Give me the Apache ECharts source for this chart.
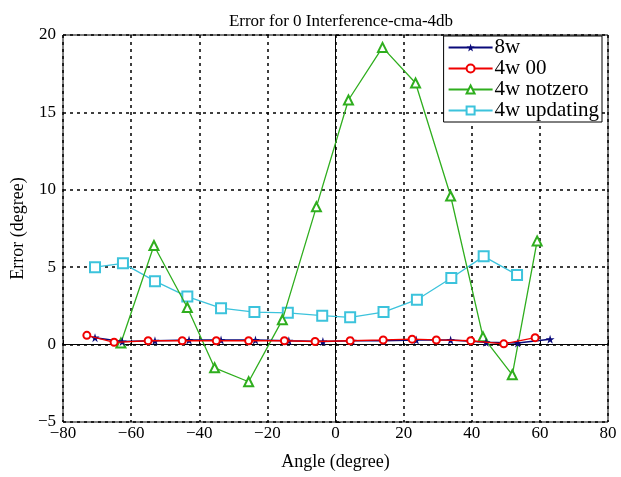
<!DOCTYPE html>
<html>
<head>
<meta charset="utf-8">
<script src="https://cdn.jsdelivr.net/npm/echarts@6/dist/echarts.min.js"></script>
<style>
  html, body { margin: 0; padding: 0; background: #fff; }
  #chart { width: 621px; height: 477px; }
</style>
</head>
<body>
<div id="chart"></div>
<script>
// angles (x) and errors (y)
var x8w = [-70.6, -62.6, -53, -43, -33.6, -23.5, -13.7, -3.7, 4.9, 14.1, 23.7, 33.8, 44.2, 53.5, 63];
var y8w = [0.45, 0.2, 0.25, 0.3, 0.3, 0.3, 0.25, 0.2, 0.25, 0.25, 0.3, 0.3, 0.15, 0.1, 0.35];

var x4w00 = [-73, -65, -55, -45, -35, -25.5, -15, -6, 4.3, 14, 22.5, 29.6, 39.7, 49.4, 58.6];
var y4w00 = [0.6, 0.15, 0.25, 0.25, 0.25, 0.25, 0.25, 0.2, 0.25, 0.3, 0.35, 0.3, 0.25, 0.05, 0.45];

var xNotzero = [-63, -53.3, -43.5, -35.5, -25.5, -15.6, -5.6, 3.8, 13.8, 23.5, 33.8, 43.3, 51.9, 59.2];
var yNotzero = [0.1, 6.4, 2.4, -1.5, -2.4, 1.6, 8.9, 15.8, 19.2, 16.9, 9.6, 0.5, -1.95, 6.7];

var xUpdating = [-70.6, -62.4, -53, -43.5, -33.6, -23.8, -14, -3.9, 4.3, 14.1, 23.9, 34, 43.5, 53.3];
var yUpdating = [5.0, 5.25, 4.1, 3.1, 2.35, 2.1, 2.05, 1.87, 1.76, 2.1, 2.9, 4.3, 5.7, 4.5];

var xTicks = [-80, -60, -40, -20, 0, 20, 40, 60, 80];
var yTicks = [-5, 0, 5, 10, 15, 20];

function pairs(xs, ys) {
  var out = [];
  for (var i = 0; i < xs.length; i++) out.push([xs[i], ys[i]]);
  return out;
}
function minus(v) {
  return String(v).replace('-', '\u2212');
}

var serif = '"Liberation Serif", "Times New Roman", serif';
var star = 'path://M50,0 L61,35 L98,35 L68,57 L79,91 L50,70 L21,91 L32,57 L2,35 L39,35 Z';

var chart = echarts.init(document.getElementById('chart'));
var option = {
  backgroundColor: '#fff',
  animation: false,
  title: {
    text: 'Error for 0 Interference-cma-4db',
    left: 336, top: 8, textAlign: 'center',
    textStyle: { fontFamily: serif, fontSize: 17, fontWeight: 'normal', color: '#000' }
  },
  legend: {
    orient: 'vertical',
    right: 19, top: 36,
    backgroundColor: '#fff',
    borderColor: '#000', borderWidth: 1,
    padding: [1, 3, 1, 4],
    itemGap: 0,
    itemWidth: 44, itemHeight: 10,
    textStyle: { fontFamily: serif, fontSize: 21, lineHeight: 19, color: '#000', padding: [0, 0, 0, -3] },
    data: ['8w', '4w 00', '4w notzero', '4w updating']
  },
  grid: { left: 63, right: 13, top: 35, bottom: 55, show: true, borderColor: '#000', borderWidth: 1 },
  xAxis: {
    type: 'value', min: -80, max: 80, interval: 20,
    name: 'Angle (degree)', nameLocation: 'middle', nameGap: 31,
    nameTextStyle: { fontFamily: serif, fontSize: 18, color: '#000' },
    axisLine: { show: true, lineStyle: { color: '#000' } },
    axisTick: { inside: true, length: 5, lineStyle: { color: '#000' } },
    axisLabel: { fontFamily: serif, fontSize: 17, color: '#000', margin: 3,
      formatter: function (v) { return xTicks.indexOf(v) >= 0 ? minus(v) : ''; } },
    splitLine: { show: true, lineStyle: { color: '#000', type: [3, 4], width: 1.5 } }
  },
  yAxis: {
    type: 'value', min: -5, max: 20, interval: 5,
    name: 'Error (degree)', nameLocation: 'middle', nameGap: 35,
    nameTextStyle: { fontFamily: serif, fontSize: 18, color: '#000' },
    axisLine: { show: true, lineStyle: { color: '#000' } },
    axisTick: { inside: true, length: 5, lineStyle: { color: '#000' } },
    axisLabel: { fontFamily: serif, fontSize: 17, color: '#000', margin: 7,
      formatter: function (v) { return yTicks.indexOf(v) >= 0 ? minus(v) : ''; } },
    splitLine: { show: true, lineStyle: { color: '#000', type: [3, 4], width: 1.5 } }
  },
  series: [
    {
      name: '8w', type: 'line', data: pairs(x8w, y8w), z: 4,
      symbol: star, symbolSize: 9,
      lineStyle: { color: '#0a0a7a', width: 1.5 },
      itemStyle: { color: '#0a0a7a', borderWidth: 0 }
    },
    {
      name: '4w 00', type: 'line', data: pairs(x4w00, y4w00), z: 5,
      symbol: 'emptyCircle', symbolSize: 7,
      lineStyle: { color: '#f00000', width: 1.3 },
      itemStyle: { color: '#f00000', borderWidth: 1.2 }
    },
    {
      name: '4w notzero', type: 'line', data: pairs(xNotzero, yNotzero), z: 3,
      symbol: 'emptyTriangle', symbolSize: 9,
      lineStyle: { color: '#2fae1e', width: 1.3 },
      itemStyle: { color: '#2fae1e', borderWidth: 1.3 }
    },
    {
      name: '4w updating', type: 'line', data: pairs(xUpdating, yUpdating), z: 2,
      symbol: 'emptyRect', symbolSize: 10,
      lineStyle: { color: '#3cc3dc', width: 1.3 },
      itemStyle: { color: '#3cc3dc', borderWidth: 1.3 }
    }
  ]
};
chart.setOption(option);
</script>
</body>
</html>
